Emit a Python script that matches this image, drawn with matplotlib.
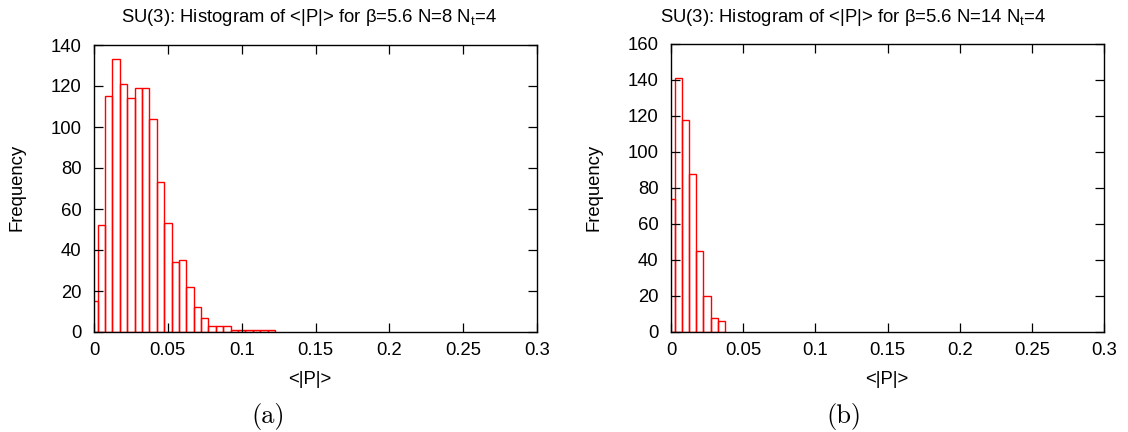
import matplotlib
matplotlib.use("Agg")
import matplotlib.pyplot as plt
import numpy as np

plt.rcParams['font.family'] = ['Liberation Sans', 'DejaVu Sans']

# Histogram bin centres (width 0.005) and counts
bin_width = 0.005
counts_a = [15, 52, 115, 133, 121, 114, 119, 119, 104, 73, 53, 34, 35, 22,
            12, 7, 3, 3, 3, 1, 1, 1, 1, 1, 1]
counts_b = [74, 141, 118, 88, 45, 20, 8, 6]
centres_a = [i * bin_width for i in range(len(counts_a))]
centres_b = [i * bin_width for i in range(len(counts_b))]

titles = ["SU(3): Histogram of <|P|> for \u03b2=5.6 N=8 N$_\\mathregular{t}$=4",
          "SU(3): Histogram of <|P|> for \u03b2=5.6 N=14 N$_\\mathregular{t}$=4"]
ymax = [140, 160]
xticks = [0, 0.05, 0.1, 0.15, 0.2, 0.25, 0.3]
xticklabels = ["0", "0.05", "0.1", "0.15", "0.2", "0.25", "0.3"]
captions = ["(a)", "(b)"]

W, H = 1128, 432
fig = plt.figure(figsize=(W / 100, H / 100), dpi=100)

# axes boxes in pixels: left, right, top, bottom
boxes = [(94, 537, 45, 332), (671, 1104, 44, 332)]
title_x = [309, 853]
ylabel_x = [17, 594]
xlabel_x = [310, 887]
caption_x = [268, 844]
FS = 13.3

for k, (centres, counts) in enumerate([(centres_a, counts_a), (centres_b, counts_b)]):
    l, r, t, b = boxes[k]
    ax = fig.add_axes([l / W, 1 - b / H, (r - l) / W, (b - t) / H])
    ax.bar(centres, counts, width=bin_width, fill=False, edgecolor='#ff0000',
           linewidth=1.0, align='center')
    ax.set_xlim(0, 0.3)
    ax.set_ylim(0, ymax[k])
    ax.set_xticks(xticks)
    ax.set_xticklabels(xticklabels)
    ax.set_yticks(np.arange(0, ymax[k] + 1, 20))
    ax.tick_params(direction='in', length=6.5, width=0.9, top=True, right=True,
                   labelsize=FS, colors='black')
    ax.tick_params(axis='y', pad=9)
    ax.tick_params(axis='x', pad=7)
    for s in ax.spines.values():
        s.set_linewidth(1.0)
        s.set_color('black')

    fig.text(title_x[k] / W, 1 - 17 / H, titles[k], ha='center', va='center',
             fontsize=FS)
    fig.text(ylabel_x[k] / W, 1 - 187 / H, "Frequency", ha='center', va='center',
             rotation=90, fontsize=FS)
    fig.text(xlabel_x[k] / W, 1 - 380 / H, "<|P|>", ha='center', va='center',
             fontsize=FS)
    fig.text(caption_x[k] / W, 1 - 417 / H, captions[k], ha='center', va='center',
             fontsize=19, family='cmr10')

fig.savefig("out.png", dpi=100)
